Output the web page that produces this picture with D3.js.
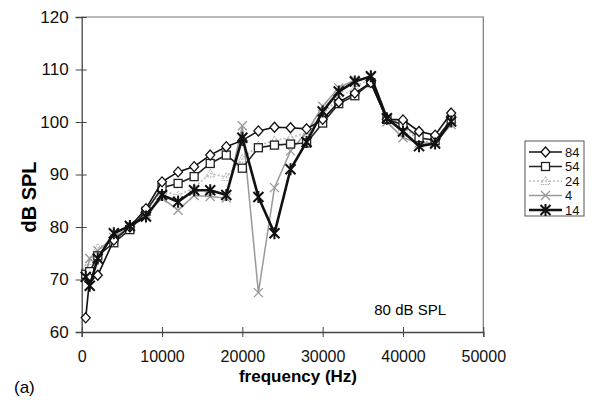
<!DOCTYPE html>
<html>
<head>
<meta charset="utf-8">
<script src="https://cdn.jsdelivr.net/npm/d3@7"></script>
<style>
  body { margin: 0; background: #fff; }
  text { font-family: "Liberation Sans", Arial, sans-serif; }
</style>
</head>
<body>
<div id="chart"></div>
<script>
// data
var freqs = [500, 1000, 2000, 4000, 6000, 8000, 10000, 12000, 14000, 16000, 18000, 20000,
  22000, 24000, 26000, 28000, 30000, 32000, 34000, 36000, 38000, 40000, 42000, 44000, 46000];
var s84 = [62.7, 70.3, 70.8, 77.5, 80, 83.5, 88.6, 90.5, 91.5, 93.7, 95.3, 96.5,
  98.3, 99, 98.9, 98.7, 100.5, 103.8, 105.5, 107.5, 100.5, 100.4, 98.2, 97.5, 101.7];
var s54 = [71, 71.5, 74.5, 77, 79.5, 83, 87.5, 88.3, 89.6, 92.1, 93.7, 91.2,
  95.1, 95.6, 95.8, 96, 99.8, 103.5, 105, 107.5, 100.5, 99.5, 97, 96.5, 100.5];
var s24 = [72, 73.5, 76, 77.5, 79.5, 83, 87, 86, 87.5, 90.2, 89.5, 93,
  95.5, 96.5, 97, 98, 101.5, 104.5, 106.5, 108.5, 100.5, 99, 96.5, 96, 100];
var s4 = [71, 74, 75.5, 78, 80, 82.5, 85.5, 83.2, 86, 85.8, 85.5, 99.3,
  67.5, 87.5, 94.5, 98, 103, 106.5, 108, 108.5, 100, 97, 96, 96, 99.5];
var s14 = [70.5, 68.8, 74, 78.8, 80.2, 82, 86.1, 84.8, 87, 87, 86.1, 97,
  85.7, 78.8, 91, 96.2, 102, 105.8, 107.7, 108.7, 100.7, 98.2, 95.4, 95.9, 100.1];

var seriesNames = ["84", "54", "24", "4", "14"];
var xTicks = [0, 10000, 20000, 30000, 40000, 50000];
var yTicks = [60, 70, 80, 90, 100, 110, 120];

var width = 592, height = 400;
var plotLeft = 81.7, plotRight = 483.3, plotTop = 17, plotBottom = 332;

var svg = d3.select("#chart").append("svg")
  .attr("width", width)
  .attr("height", height);

var x = d3.scaleLinear().domain([0, 50000]).range([plotLeft, plotRight]);
var y = d3.scaleLinear().domain([60, 120]).range([plotBottom, plotTop]);

// frame: top and right borders
svg.append("path")
  .attr("d", "M" + plotLeft + "," + plotTop + "H" + plotRight + "V" + plotBottom)
  .attr("fill", "none")
  .attr("stroke", "#777")
  .attr("stroke-width", 1.2);

// axes
var xAxis = d3.axisBottom(x).tickValues(xTicks).tickFormat(d3.format("d")).tickSize(5).tickPadding(14);
var gx = svg.append("g").attr("transform", "translate(0," + plotBottom + ")").call(xAxis);
gx.selectAll(".tick line").attr("y1", -5);
var yAxis = d3.axisLeft(y).tickValues(yTicks).tickFormat(d3.format("d")).tickSize(6).tickPadding(8);
var gy = svg.append("g").attr("transform", "translate(" + plotLeft + ",0)").call(yAxis);
gy.selectAll(".tick line").attr("x1", 5);

[gx, gy].forEach(function(g) {
  g.select(".domain").attr("stroke", "#444").attr("stroke-width", 1.3);
  g.selectAll(".tick line").attr("stroke", "#444").attr("stroke-width", 1);
  g.selectAll("text").attr("fill", "#111").style("font-family", "Liberation Sans, Arial, sans-serif");
});
gx.selectAll("text").style("font-size", "16px");
gy.selectAll("text").style("font-size", "17px");
gy.selectAll(".tick text").attr("x", -13);

// axis titles
svg.append("text")
  .attr("x", 298).attr("y", 382)
  .attr("text-anchor", "middle")
  .style("font-size", "17px").style("font-weight", "bold")
  .text("frequency (Hz)");

svg.append("text")
  .attr("transform", "translate(36,197) rotate(-90)")
  .attr("text-anchor", "middle")
  .style("font-size", "20px").style("font-weight", "bold")
  .text("dB SPL");

svg.append("text")
  .attr("x", 14).attr("y", 393)
  .style("font-size", "17px")
  .text("(a)");

svg.append("text")
  .attr("x", 446).attr("y", 315)
  .attr("text-anchor", "end")
  .style("font-size", "15px")
  .text("80 dB SPL");

// marker drawing helpers
function drawMarker(g, kind, cx, cy, color) {
  if (kind == "diamond") {
    g.append("path").attr("d", "M" + cx + "," + (cy - 5) + "L" + (cx + 4.5) + "," + cy + "L" + cx + "," + (cy + 5) + "L" + (cx - 4.5) + "," + cy + "Z")
      .attr("fill", "#fff").attr("stroke", color).attr("stroke-width", 1.3);
  } else if (kind == "square") {
    g.append("rect").attr("x", cx - 4).attr("y", cy - 4).attr("width", 8).attr("height", 8)
      .attr("fill", "#fff").attr("stroke", color).attr("stroke-width", 1.3);
  } else if (kind == "triangle") {
    g.append("path").attr("d", "M" + cx + "," + (cy - 4.5) + "L" + (cx + 4.5) + "," + (cy + 3.5) + "L" + (cx - 4.5) + "," + (cy + 3.5) + "Z")
      .attr("fill", "none").attr("stroke", color).attr("stroke-width", 1).attr("stroke-dasharray", "1.5,1");
  } else if (kind == "cross") {
    g.append("path").attr("d", "M" + (cx - 4.5) + "," + (cy - 4.5) + "L" + (cx + 4.5) + "," + (cy + 4.5) + "M" + (cx + 4.5) + "," + (cy - 4.5) + "L" + (cx - 4.5) + "," + (cy + 4.5))
      .attr("stroke", color).attr("stroke-width", 1.3);
  } else if (kind == "star") {
    g.append("path").attr("d", "M" + (cx - 5) + "," + (cy - 5) + "L" + (cx + 5) + "," + (cy + 5) + "M" + (cx + 5) + "," + (cy - 5) + "L" + (cx - 5) + "," + (cy + 5) + "M" + cx + "," + (cy - 6) + "V" + (cy + 6))
      .attr("stroke", color).attr("stroke-width", 2);
  }
}

var styles = {
  "84": { values: s84, color: "#111", width: 1.6, dash: null, marker: "diamond", mcolor: "#111" },
  "54": { values: s54, color: "#222", width: 1.6, dash: null, marker: "square", mcolor: "#222" },
  "24": { values: s24, color: "#bbb", width: 1.6, dash: "2,2", marker: "triangle", mcolor: "#aaa" },
  "4": { values: s4, color: "#999", width: 1.5, dash: null, marker: "cross", mcolor: "#999" },
  "14": { values: s14, color: "#111", width: 2.6, dash: null, marker: "star", mcolor: "#111" }
};

var line = d3.line()
  .x(function(d) { return x(d[0]); })
  .y(function(d) { return y(d[1]); });

// draw order: light ones behind
var drawOrder = ["24", "4", "54", "84", "14"];
drawOrder.forEach(function(name) {
  var st = styles[name];
  var pts = freqs.map(function(f, i) { return [f, st.values[i]]; });
  var g = svg.append("g");
  g.append("path")
    .attr("d", line(pts))
    .attr("fill", "none")
    .attr("stroke", st.color)
    .attr("stroke-width", st.width)
    .attr("stroke-dasharray", st.dash);
  pts.forEach(function(p) {
    drawMarker(g, st.marker, x(p[0]), y(p[1]), st.mcolor);
  });
});

// legend
var lg = svg.append("g");
lg.append("rect")
  .attr("x", 525).attr("y", 141).attr("width", 59).attr("height", 75)
  .attr("fill", "#fff").attr("stroke", "#555").attr("stroke-width", 1);
seriesNames.forEach(function(name, i) {
  var st = styles[name];
  var ly = 152 + i * 14.5;
  lg.append("line")
    .attr("x1", 529).attr("x2", 562).attr("y1", ly).attr("y2", ly)
    .attr("stroke", st.color).attr("stroke-width", st.width)
    .attr("stroke-dasharray", st.dash);
  drawMarker(lg, st.marker, 545.5, ly, st.mcolor);
  lg.append("text")
    .attr("x", 565).attr("y", ly + 4.5)
    .style("font-size", "13px")
    .attr("fill", "#111")
    .text(name);
});
</script>
</body>
</html>
